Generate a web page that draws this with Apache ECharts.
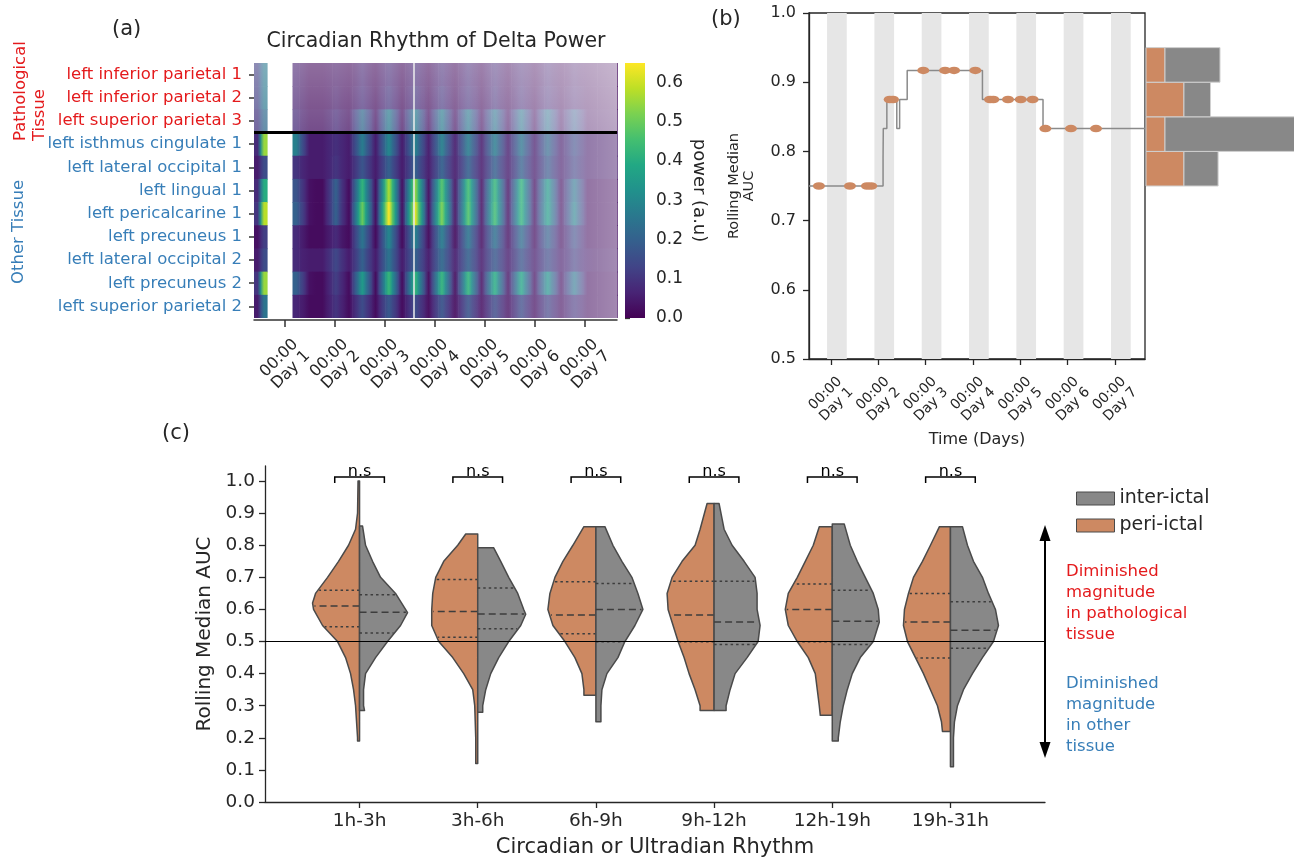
<!DOCTYPE html>
<html><head><meta charset="utf-8">
<script src="https://cdn.jsdelivr.net/npm/echarts@6/dist/echarts.min.js"></script>
<style>html,body{margin:0;padding:0;background:#fff}#c{width:1294px;height:861px}</style>
</head><body><div id="c"></div>
<script>
// ---------------- Panel (a) data ----------------
const rowNames = ['left inferior parietal 1','left inferior parietal 2','left superior parietal 3','left isthmus cingulate 1','left lateral occipital 1','left lingual 1','left pericalcarine 1','left precuneus 1','left lateral occipital 2','left precuneus 2','left superior parietal 2'];
const pathologicalCount = 3;
const dayTicks = [1,2,3,4,5,6,7];
const colorTicks = [0,0.1,0.2,0.3,0.4,0.5,0.6];
const colorMax = 0.65;
const whiteLineDay = 3.575;
// early short recording (2 columns per row)
const stripStart = 0.38, stripStep = 0.13;
const stripRows = [[0.12,0.26],[0.12,0.26],[0.10,0.22],[0.08,0.55],[0.05,0.15],[0.08,0.40],[0.10,0.58],[0.03,0.12],[0.05,0.15],[0.10,0.55],[0.05,0.25]];
// main recording
const mainStart = 1.15, mainStep = 0.1325;
const rowInfPar1 = [0.06,0.04,0.02,0.02,0.02,0.03,0.04,0.03,0.02, 0.04,0.07,0.04,0.02, 0.05,0.08,0.05,0.02, 0.05,0.08,0.05,0.02, 0.05,0.08,0.05,0.02, 0.05,0.08,0.05,0.02, 0.05,0.08,0.05,0.02, 0.05,0.07,0.05,0.02, 0.04,0.07,0.04,0.02, 0.03,0.05,0.03,0.02, 0.02,0.02,0.02,0.02];
const rowInfPar2 = [0.06,0.04,0.02,0.02,0.02,0.03,0.05,0.03,0.02, 0.05,0.08,0.05,0.02, 0.06,0.10,0.06,0.02, 0.06,0.10,0.06,0.02, 0.06,0.10,0.06,0.02, 0.06,0.09,0.06,0.02, 0.05,0.09,0.05,0.02, 0.05,0.08,0.05,0.02, 0.05,0.08,0.05,0.02, 0.04,0.06,0.04,0.02, 0.02,0.02,0.02,0.02];
const rowSupPar3 = [0.08,0.05,0.03,0.03,0.03,0.05,0.08,0.05,0.03, 0.13,0.22,0.13,0.03, 0.15,0.27,0.15,0.03, 0.15,0.27,0.15,0.03, 0.15,0.27,0.15,0.03, 0.15,0.26,0.15,0.03, 0.14,0.25,0.14,0.03, 0.14,0.25,0.14,0.03, 0.14,0.24,0.14,0.03, 0.11,0.18,0.11,0.03, 0.03,0.03,0.03,0.03];
const rowIsthmus1 = [0.28,0.15,0.05,0.05,0.05,0.07,0.09,0.07,0.05, 0.16,0.27,0.16,0.05, 0.17,0.30,0.17,0.05, 0.16,0.28,0.16,0.05, 0.16,0.28,0.16,0.05, 0.16,0.27,0.16,0.05, 0.16,0.27,0.16,0.05, 0.15,0.25,0.15,0.05, 0.13,0.22,0.13,0.05, 0.10,0.15,0.10,0.05, 0.05,0.05,0.05,0.05];
const rowLatOcc1 = [0.10,0.07,0.05,0.05,0.05,0.07,0.10,0.07,0.05, 0.11,0.17,0.11,0.05, 0.12,0.20,0.12,0.05, 0.12,0.20,0.12,0.05, 0.12,0.20,0.12,0.05, 0.12,0.20,0.12,0.05, 0.12,0.20,0.12,0.05, 0.12,0.20,0.12,0.05, 0.11,0.18,0.11,0.05, 0.09,0.13,0.09,0.05, 0.05,0.05,0.05,0.05];
const rowLingual1 = [0.17,0.10,0.03,0.02,0.02,0.10,0.20,0.09,0.02, 0.22,0.42,0.22,0.03, 0.30,0.57,0.30,0.03, 0.28,0.54,0.28,0.03, 0.25,0.47,0.25,0.03, 0.24,0.45,0.24,0.03, 0.23,0.43,0.23,0.03, 0.22,0.42,0.22,0.03, 0.19,0.35,0.19,0.03, 0.14,0.25,0.14,0.03, 0.03,0.03,0.03,0.03];
const rowPerical1 = [0.20,0.12,0.03,0.02,0.02,0.10,0.20,0.09,0.02, 0.26,0.50,0.26,0.03, 0.35,0.65,0.35,0.03, 0.33,0.62,0.33,0.03, 0.28,0.52,0.28,0.03, 0.25,0.47,0.25,0.03, 0.24,0.45,0.24,0.03, 0.23,0.42,0.23,0.03, 0.20,0.36,0.20,0.03, 0.15,0.28,0.15,0.03, 0.03,0.03,0.03,0.03];
const rowPrecun1 = [0.08,0.05,0.02,0.02,0.02,0.05,0.08,0.04,0.02, 0.14,0.25,0.14,0.02, 0.16,0.30,0.16,0.02, 0.15,0.28,0.15,0.02, 0.15,0.27,0.15,0.02, 0.14,0.25,0.14,0.03, 0.14,0.24,0.14,0.03, 0.13,0.23,0.13,0.03, 0.12,0.20,0.12,0.03, 0.09,0.15,0.09,0.03, 0.03,0.03,0.03,0.03];
const rowLatOcc2 = [0.08,0.06,0.05,0.05,0.05,0.09,0.14,0.09,0.05, 0.12,0.20,0.12,0.05, 0.15,0.25,0.15,0.05, 0.13,0.20,0.13,0.05, 0.14,0.22,0.14,0.05, 0.13,0.20,0.13,0.05, 0.12,0.18,0.12,0.05, 0.11,0.17,0.11,0.05, 0.10,0.15,0.10,0.05, 0.08,0.12,0.08,0.05, 0.04,0.04,0.04,0.04];
const rowPrecun2 = [0.20,0.12,0.03,0.02,0.02,0.07,0.12,0.07,0.02, 0.19,0.35,0.19,0.02, 0.23,0.43,0.23,0.02, 0.22,0.42,0.22,0.02, 0.22,0.42,0.22,0.02, 0.22,0.42,0.22,0.03, 0.21,0.40,0.21,0.03, 0.20,0.38,0.20,0.03, 0.18,0.33,0.18,0.03, 0.14,0.25,0.14,0.03, 0.03,0.03,0.03,0.03];
const rowSupPar2 = [0.07,0.05,0.02,0.02,0.02,0.06,0.10,0.06,0.02, 0.09,0.15,0.09,0.02, 0.11,0.18,0.11,0.02, 0.09,0.15,0.09,0.02, 0.10,0.17,0.10,0.02, 0.10,0.17,0.10,0.03, 0.09,0.15,0.09,0.03, 0.09,0.15,0.09,0.03, 0.08,0.13,0.08,0.03, 0.07,0.10,0.07,0.03, 0.03,0.03,0.03,0.03];
const heatRows = [rowInfPar1,rowInfPar2,rowSupPar3,rowIsthmus1,rowLatOcc1,rowLingual1,rowPerical1,rowPrecun1,rowLatOcc2,rowPrecun2,rowSupPar2];

// ---------------- Panel (b) data ----------------
const aucStep = [[0.535,0.75],[2.10,0.79],[2.105,0.833],[2.18,0.875],[2.39,0.833],[2.45,0.875],[2.61,0.917],[4.20,0.875],[5.48,0.833],[7.635,0.833]];
const aucDots = [[0.745,0.75],[1.40,0.75],[1.76,0.75],[1.85,0.75],[2.24,0.875],[2.31,0.875],[2.95,0.917],[3.41,0.917],[3.60,0.917],[4.05,0.917],[4.36,0.875],[4.43,0.875],[4.74,0.875],[5.01,0.875],[5.26,0.875],[5.53,0.833],[6.07,0.833],[6.60,0.833]];
const nightBands = [[0.917,1.333],[1.917,2.333],[2.917,3.333],[3.917,4.333],[4.917,5.333],[5.917,6.333],[6.917,7.333]];
const histBins = [[0.75,0.80],[0.80,0.85],[0.85,0.90],[0.90,0.95]];
const histPeri = [2,1,2,1];
const histInter = [1.8,7.5,1.4,2.9];

// ---------------- Panel (c) data ----------------
const rhythmCats = ['1h-3h','3h-6h','6h-9h','9h-12h','12h-19h','19h-31h'];
const cTicks = [0,0.1,0.2,0.3,0.4,0.5,0.6,0.7,0.8,0.9,1.0];
// density profiles: [AUC, relative density]
const periViolins = [
  [[0.19,2],[0.2,2],[0.25,3],[0.3,4],[0.35,6],[0.4,9],[0.45,14],[0.5,22],[0.55,37],[0.6,46],[0.62,47],[0.65,44],[0.7,32],[0.75,21],[0.8,11],[0.85,4],[0.9,2],[1.0,1.5]],
  [[0.12,2],[0.2,2],[0.3,3],[0.35,5],[0.4,14],[0.45,25],[0.5,39],[0.55,46],[0.6,46],[0.65,45],[0.7,42],[0.75,34],[0.8,20],[0.835,12]],
  [[0.333,12],[0.35,12],[0.4,14],[0.45,21],[0.5,31],[0.55,43],[0.6,48],[0.65,46],[0.7,41],[0.75,33],[0.8,23],[0.858,12]],
  [[0.285,14],[0.3,14],[0.35,19],[0.4,25],[0.45,30],[0.5,36],[0.55,41],[0.6,46],[0.65,47],[0.7,42],[0.75,32],[0.8,19],[0.85,14],[0.93,7]],
  [[0.27,12],[0.3,13],[0.35,15],[0.4,17],[0.45,24],[0.5,35],[0.55,44],[0.6,47],[0.65,44],[0.7,35],[0.75,27],[0.8,19],[0.858,13]],
  [[0.22,8],[0.25,9],[0.3,13],[0.35,20],[0.4,27],[0.45,35],[0.5,43],[0.55,47],[0.6,46],[0.65,42],[0.7,37],[0.75,28],[0.8,20],[0.858,11]]
];
const interViolins = [
  [[0.285,5],[0.3,4],[0.35,4],[0.4,6],[0.45,16],[0.5,28],[0.55,41],[0.59,48],[0.6,46],[0.65,36],[0.7,21],[0.75,13],[0.8,6],[0.86,3]],
  [[0.28,5],[0.3,5],[0.35,8],[0.4,13],[0.45,21],[0.5,31],[0.55,43],[0.585,48],[0.6,46],[0.65,40],[0.7,31],[0.75,23],[0.792,16]],
  [[0.25,5],[0.3,5],[0.35,6],[0.4,11],[0.45,22],[0.5,29],[0.55,39],[0.6,47],[0.65,42],[0.7,36],[0.75,26],[0.8,17],[0.858,9]],
  [[0.285,12],[0.3,12],[0.35,16],[0.4,21],[0.45,33],[0.5,44],[0.55,46],[0.6,43],[0.65,43],[0.7,41],[0.75,30],[0.8,18],[0.85,10],[0.93,5]],
  [[0.19,6],[0.2,6],[0.25,8],[0.3,11],[0.35,15],[0.4,20],[0.45,28],[0.5,41],[0.56,47],[0.6,46],[0.65,41],[0.7,33],[0.75,25],[0.8,18],[0.866,12]],
  [[0.11,3],[0.15,3],[0.2,3],[0.25,4],[0.3,7],[0.35,13],[0.4,22],[0.45,32],[0.5,43],[0.55,48],[0.6,45],[0.65,38],[0.7,32],[0.75,23],[0.8,17],[0.858,12]]
];
const periQuart = [[0.546,0.611,0.660],[0.513,0.594,0.693],[0.524,0.583,0.686],[0.499,0.583,0.688],[0.499,0.600,0.679],[0.449,0.561,0.650]];
const interQuart = [[0.527,0.591,0.646],[0.540,0.586,0.667],[0.499,0.600,0.681],[0.491,0.561,0.688],[0.491,0.563,0.660],[0.479,0.535,0.624]];
const nsLabels = ['n.s','n.s','n.s','n.s','n.s','n.s'];

// ---------------- styles ----------------
const RED = '#e41a1c', BLUE = '#377eb8', PERI = '#cd8962', INTER = '#888888', INK = '#262626';
const FONT = 'DejaVu Sans';
const violinScale = 1/118.2;
const viridisStops = ['#440154','#482475','#414487','#355f8d','#2a788e','#21918c','#22a884','#44bf70','#7ad151','#bddf26','#fde725'];
const heatOverlays = [
  {x0:0.38, x1:7.64, y0:0, y1:3, dir:'v', alpha:[0.4,0.25]},
  {x0:3.6, x1:7.64, y0:0, y1:11, dir:'h', alpha:[0,0.1,0.22,0.36,0.5]}
];

function hexToRgb(h){return [parseInt(h.slice(1,3),16),parseInt(h.slice(3,5),16),parseInt(h.slice(5,7),16)];}
const vRgb = viridisStops.map(hexToRgb);
function viridis(v){
  let t = Math.max(0, Math.min(1, v/colorMax)) * (vRgb.length-1);
  const i = Math.min(Math.floor(t), vRgb.length-2), f = t - i;
  const a = vRgb[i], b = vRgb[i+1];
  return 'rgb(' + [0,1,2].map(k => Math.round(a[k] + (b[k]-a[k])*f)).join(',') + ')';
}

const heatData = [];
function addSegment(start, step, rowsVals){
  rowsVals.forEach((vals, r) => vals.forEach((v, i) => {
    heatData.push([start + i*step, start + (i+1)*step, r, v, i>0 ? vals[i-1] : v, i<vals.length-1 ? vals[i+1] : v]);
  }));
}
addSegment(stripStart, stripStep, stripRows);
addSegment(mainStart, mainStep, heatRows);

function widthAt(prof, y){
  for (let k=0;k<prof.length-1;k++){
    const a=prof[k], b=prof[k+1];
    if (y>=a[0] && y<=b[0]) return a[1] + (b[1]-a[1])*(y-a[0])/(b[0]-a[0]);
  }
  return 0;
}
function halfViolin(api, c, prof, side, quart, fill){
  const pts = [api.coord([c, prof[0][0]])];
  prof.forEach(p => pts.push(api.coord([c + side*p[1]*violinScale, p[0]])));
  pts.push(api.coord([c, prof[prof.length-1][0]]));
  const children = [{type:'polygon', shape:{points:pts}, style:{fill:fill, stroke:'#4a4a4a', lineWidth:1.5, lineJoin:'round'}}];
  quart.forEach((q,k) => {
    const w = widthAt(prof, q);
    const p0 = api.coord([c, q]), p1 = api.coord([c + side*w*violinScale*0.97, q]);
    children.push({type:'line', shape:{x1:p0[0], y1:p0[1], x2:p1[0], y2:p1[1]}, style:{stroke:'#3d3d3d', lineWidth:1.5, lineDash: k===1 ? [7,4] : [2.5,3]}});
  });
  return {type:'group', children};
}

const axisLineStyle = {color: INK, width: 1.3};
const chart = echarts.init(document.getElementById('c'), null, {renderer:'canvas'});
const option = {
  animation: false,
  backgroundColor: '#fff',
  textStyle: {fontFamily: FONT, color: INK},
  title: {text:'Circadian Rhythm of Delta Power', left: 431, top: 26, textAlign:'center', textStyle:{fontFamily:FONT, fontSize:20.5, fontWeight:'normal', color:INK}},
  legend: {data:['inter-ictal','peri-ictal'], orient:'vertical', left:1071, top:484, itemWidth:38, itemHeight:13, itemGap:8, icon:'rect', selectedMode:false,
    textStyle:{fontFamily:FONT, fontSize:19, color:INK}, itemStyle:{borderColor:'#4a4a4a', borderWidth:1}},
  grid: [
    {left:254, top:63, width:363, height:255},
    {left:625, top:63, width:20, height:255},
    {left:809, top:13, width:336, height:346, show:true, borderColor:INK, borderWidth:1.3, backgroundColor:'transparent'},
    {left:1146, top:13, width:148, height:346},
    {left:265, top:466, width:780, height:336}
  ],
  xAxis: [
    {gridIndex:0, type:'value', min:0.38, max:7.64, offset:2, splitLine:{show:false},
      axisLine:{show:true, onZero:false, lineStyle:{color:'#333', width:1.5}},
      axisTick:{show:true, interval:0, length:7, customValues:dayTicks, lineStyle:{color:'#333', width:1.5}},
      axisLabel:{customValues:dayTicks, interval:0, showMinLabel:true, showMaxLabel:true, hideOverlap:false, formatter:v=>'00:00\nDay '+v, rotate:45, fontSize:16, color:INK, align:'center', verticalAlign:'middle', margin:44, lineHeight:16.5}},
    {gridIndex:1, type:'value', min:0, max:1, show:false},
    {gridIndex:2, type:'value', min:0.535, max:7.635, splitLine:{show:false},
      axisLine:{show:true, onZero:false, lineStyle:axisLineStyle},
      axisTick:{show:true, interval:0, length:6, customValues:dayTicks, lineStyle:axisLineStyle},
      axisLabel:{customValues:dayTicks, interval:0, showMinLabel:true, showMaxLabel:true, hideOverlap:false, formatter:v=>'00:00\nDay '+v, rotate:45, fontSize:14, color:INK, align:'center', verticalAlign:'middle', margin:40, lineHeight:15.5}},
      ...[],
    {gridIndex:3, type:'value', min:0, max:7.8, show:false},
    {gridIndex:4, type:'value', min:-0.8, max:5.8, splitLine:{show:false},
      axisLine:{show:true, onZero:false, lineStyle:axisLineStyle},
      axisTick:{show:true, interval:0, length:6, customValues:[0,1,2,3,4,5], lineStyle:axisLineStyle},
      axisLabel:{customValues:[0,1,2,3,4,5], interval:0, showMinLabel:true, showMaxLabel:true, formatter:v=>rhythmCats[Math.round(v)], fontSize:18.5, color:INK, margin:10},
      name:'Circadian or Ultradian Rhythm', nameLocation:'middle', nameGap:35, nameTextStyle:{fontSize:21, color:INK}}
  ],
  yAxis: [
    {gridIndex:0, type:'category', data:rowNames, inverse:true, splitLine:{show:false},
      axisLine:{show:false}, axisTick:{show:true, interval:0, alignWithLabel:true, length:5, lineStyle:{color:'#333', width:1.5}},
      axisLabel:{fontSize:16.5, margin:12, interval:0, color:(v,i)=> i < pathologicalCount ? RED : BLUE}},
    {gridIndex:0, type:'value', min:0, max:11, inverse:true, show:false, position:'right'},
    {gridIndex:1, type:'value', min:0, max:colorMax, position:'right', splitLine:{show:false},
      axisLine:{show:false},
      axisTick:{show:true, interval:0, length:5, customValues:colorTicks, lineStyle:{color:'#333', width:1.3}},
      axisLabel:{customValues:colorTicks, interval:0, showMinLabel:true, showMaxLabel:true, formatter:v=>v.toFixed(1), fontSize:17, color:INK, margin:11},
      name:'power (a.u)', nameLocation:'middle', nameRotate:-90, nameGap:45, nameTextStyle:{fontSize:18, color:INK}},
    {gridIndex:2, type:'value', min:0.5, max:1.0, interval:0.1, splitLine:{show:false},
      axisLine:{show:true, onZero:false, lineStyle:axisLineStyle},
      axisTick:{show:true, length:6, lineStyle:axisLineStyle},
      axisLabel:{formatter:v=>v.toFixed(1), showMinLabel:true, showMaxLabel:true, fontSize:16, color:INK, margin:13},
      name:'Rolling Median\nAUC', nameLocation:'middle', nameGap:52, nameTextStyle:{fontSize:14.5, color:INK, lineHeight:15, align:'center'}},
    {gridIndex:3, type:'value', min:0.5, max:1.0, show:false},
    {gridIndex:4, type:'value', min:0, max:1.047, splitLine:{show:false},
      axisLine:{show:true, onZero:false, lineStyle:axisLineStyle},
      axisTick:{show:true, interval:0, length:6, customValues:cTicks, lineStyle:axisLineStyle},
      axisLabel:{customValues:cTicks, interval:0, showMinLabel:true, showMaxLabel:true, formatter:v=>v.toFixed(1), fontSize:18.5, color:INK, margin:10},
      name:'Rolling Median AUC', nameLocation:'middle', nameGap:43, nameTextStyle:{fontSize:20, color:INK}}
  ],
  series: [
    // heatmap cells
    {type:'custom', coordinateSystem:'cartesian2d', xAxisIndex:0, yAxisIndex:1, data:heatData, encode:{x:[0,1], y:2}, z:2, silent:true,
      renderItem:(params, api) => {
        const t0=api.value(0), t1=api.value(1), r=api.value(2), v=api.value(3), vp=api.value(4), vn=api.value(5);
        const p0 = api.coord([t0, r]), p1 = api.coord([t1, r+1]);
        const extraH = r < heatRows.length-1 ? 0.7 : 0;
        return {type:'rect', shape:{x:p0[0], y:p0[1], width:p1[0]-p0[0]+0.6, height:p1[1]-p0[1]+extraH},
          style:{fill:{type:'linear', x:0, y:0, x2:1, y2:0, colorStops:[
            {offset:0, color:viridis((v+vp)/2)}, {offset:0.5, color:viridis(v)}, {offset:1, color:viridis((v+vn)/2)}]}}};
      },
      markLine:{silent:true, symbol:'none', animation:false, label:{show:false}, data:[
        {xAxis:whiteLineDay, lineStyle:{color:'#eeeeee', width:1.5, type:'solid'}},
        {yAxis:pathologicalCount, lineStyle:{color:'#000', width:3, type:'solid'}}]}
    },
    // translucent fading overlays
    {type:'custom', coordinateSystem:'cartesian2d', xAxisIndex:0, yAxisIndex:1, z:3, silent:true,
      data: heatOverlays.map((o,i)=>[o.x0, o.y0, i]), encode:{x:0, y:1},
      renderItem:(params, api) => {
        const o = heatOverlays[api.value(2)];
        const p0 = api.coord([o.x0, o.y0]), p1 = api.coord([o.x1, o.y1]);
        const n = o.alpha.length;
        const stops = o.alpha.map((a,k)=>({offset:k/(n-1), color:'rgba(255,255,255,'+a+')'}));
        return {type:'rect', shape:{x:p0[0], y:p0[1], width:p1[0]-p0[0], height:p1[1]-p0[1]},
          style:{fill:{type:'linear', x:0, y:0, x2:o.dir==='h'?1:0, y2:o.dir==='h'?0:1, colorStops:stops}}};
      }},
    // colorbar
    {type:'custom', coordinateSystem:'cartesian2d', xAxisIndex:1, yAxisIndex:2, silent:true, data:[[0, colorMax]],
      renderItem:(params, api) => {
        const a = api.coord([0,0]), b = api.coord([1, colorMax]);
        return {type:'rect', shape:{x:a[0], y:b[1], width:b[0]-a[0], height:a[1]-b[1]},
          style:{fill:{type:'linear', x:0, y:1, x2:0, y2:0, colorStops:viridisStops.map((c,k)=>({offset:k/(viridisStops.length-1), color:c}))}}};
      }},
    // (b) step line
    {type:'line', xAxisIndex:2, yAxisIndex:3, data:aucStep, step:'end', symbol:'none', z:2, silent:true,
      lineStyle:{color:'#8a8a8a', width:1.5},
      markArea:{silent:true, itemStyle:{color:'#e6e6e6'}, data: nightBands.map(b=>[{xAxis:b[0]},{xAxis:b[1]}])}},
    {type:'scatter', xAxisIndex:2, yAxisIndex:3, data:aucDots, symbol:'circle', symbolSize:[12,7.5], z:3, silent:true,
      itemStyle:{color:PERI, opacity:1}},
    // (b) marginal histogram
    {type:'custom', coordinateSystem:'cartesian2d', xAxisIndex:3, yAxisIndex:4, silent:true,
      data: histBins.map((b,i)=>[b[0], b[1], histPeri[i], histInter[i]]),
      renderItem:(params, api) => {
        const lo=api.value(0), hi=api.value(1), pv=api.value(2), iv=api.value(3);
        const a = api.coord([0, lo]), b = api.coord([pv, hi]), c = api.coord([pv+iv, hi]);
        const st = {stroke:'#d0d0d0', lineWidth:1};
        return {type:'group', children:[
          {type:'rect', shape:{x:a[0], y:b[1], width:b[0]-a[0], height:a[1]-b[1]}, style:Object.assign({fill:PERI}, st)},
          {type:'rect', shape:{x:b[0], y:b[1], width:c[0]-b[0], height:a[1]-b[1]}, style:Object.assign({fill:INTER}, st)}]};
      }},
    // (c) violins
    {type:'custom', name:'peri-ictal', coordinateSystem:'cartesian2d', xAxisIndex:4, yAxisIndex:5, silent:true,
      itemStyle:{color:PERI, borderColor:'#4a4a4a'},
      data: rhythmCats.map((c,i)=>[i, 0.5]),
      renderItem:(params, api) => halfViolin(api, api.value(0), periViolins[params.dataIndex], -1, periQuart[params.dataIndex], PERI),
      markLine:{silent:true, animation:false, symbol:['triangle','triangle'], symbolSize:[11,16], label:{show:false},
        lineStyle:{color:'#000', width:2, type:'solid'},
        data:[[{coord:[5.8,0.162]},{coord:[5.8,0.838]}]]}},
    {type:'custom', name:'inter-ictal', coordinateSystem:'cartesian2d', xAxisIndex:4, yAxisIndex:5, silent:true,
      itemStyle:{color:INTER, borderColor:'#4a4a4a'},
      data: rhythmCats.map((c,i)=>[i, 0.5]),
      renderItem:(params, api) => halfViolin(api, api.value(0), interViolins[params.dataIndex], 1, interQuart[params.dataIndex], INTER)},
    // significance brackets + 0.5 reference line
    {type:'custom', coordinateSystem:'cartesian2d', xAxisIndex:4, yAxisIndex:5, silent:true, z:4,
      data: nsLabels.map((s,i)=>[i, 1.013]),
      renderItem:(params, api) => {
        const c = api.value(0);
        const a = api.coord([c-0.21, 0.994]), b = api.coord([c-0.21, 1.013]), d = api.coord([c+0.21, 1.013]), e = api.coord([c+0.21, 0.994]);
        return {type:'group', children:[
          {type:'polyline', shape:{points:[a,b,d,e]}, style:{stroke:'#000', lineWidth:1.5, fill:null}},
          {type:'text', style:{x:(b[0]+d[0])/2, y:b[1]+3, text:nsLabels[params.dataIndex], align:'center', verticalAlign:'bottom', fontSize:16, fontFamily:FONT, fill:'#000'}}]};
      },
      markLine:{silent:true, symbol:'none', animation:false, label:{show:false},
        lineStyle:{color:'#000', width:1, type:'solid'}, data:[{yAxis:0.5}]}}
  ],
  graphic: [
    {type:'text', left:112, top:19, style:{text:'(a)', fontSize:21, fontFamily:FONT, fill:INK}},
    {type:'text', left:711, top:9, style:{text:'(b)', fontSize:21, fontFamily:FONT, fill:INK}},
    {type:'text', left:162, top:423, style:{text:'(c)', fontSize:21, fontFamily:FONT, fill:INK}},
    {type:'text', x:11, y:141, rotation:Math.PI/2, style:{text:'Pathological\nTissue', fill:RED, fontSize:16.5, fontFamily:FONT, lineHeight:19, align:'left', verticalAlign:'top'}},
    {type:'text', x:10, y:284, rotation:Math.PI/2, style:{text:'Other Tissue', fill:BLUE, fontSize:16.5, fontFamily:FONT, align:'left', verticalAlign:'top'}},
    {type:'text', left:1066, top:561, style:{text:'Diminished\nmagnitude\nin pathological\ntissue', fill:RED, fontSize:16.5, fontFamily:FONT, lineHeight:21}},
    {type:'text', left:1066, top:673, style:{text:'Diminished\nmagnitude\nin other\ntissue', fill:BLUE, fontSize:16.5, fontFamily:FONT, lineHeight:21}}
  ]
};
// x-axis name for panel (b)
option.xAxis[2].name = 'Time (Days)';
option.xAxis[2].nameLocation = 'middle';
option.xAxis[2].nameGap = 73;
option.xAxis[2].nameTextStyle = {fontSize:16, color:INK};
chart.setOption(option);
</script></body></html>
